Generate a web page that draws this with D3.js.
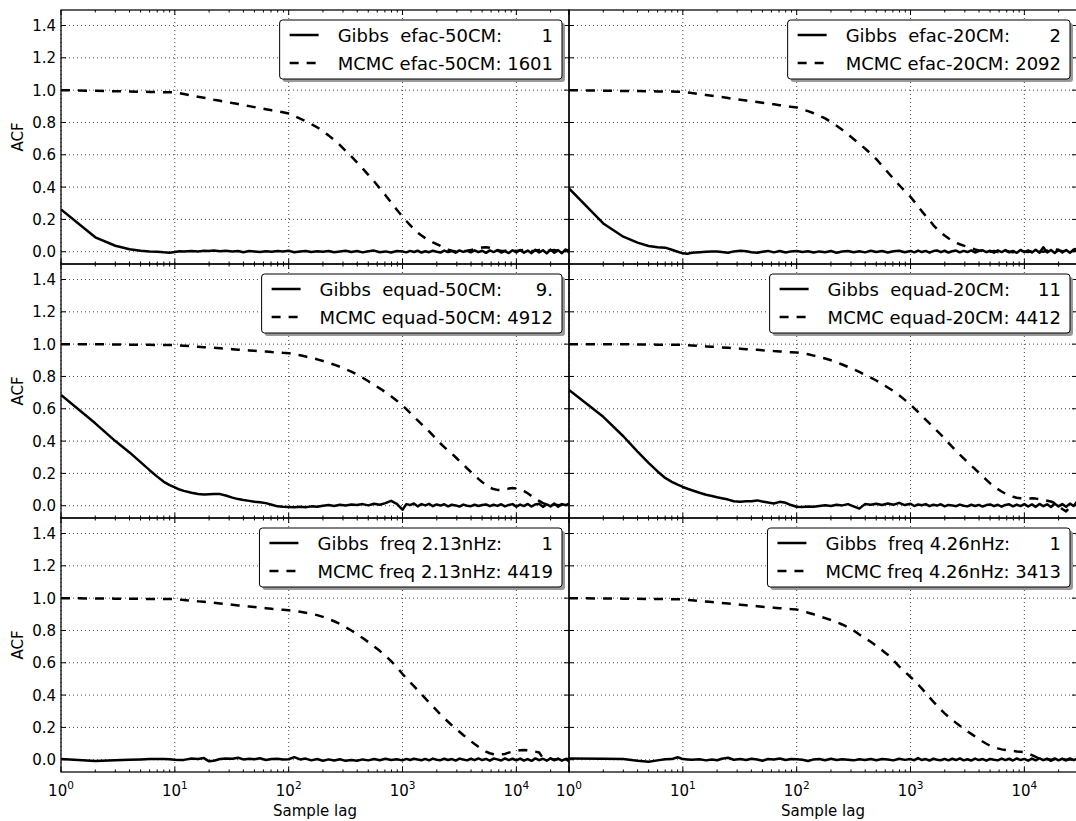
<!DOCTYPE html>
<html><head><meta charset="utf-8">
<script src="https://cdn.jsdelivr.net/npm/d3@7"></script>
<style>
body{margin:0;background:#fff}
svg{display:block}
text{font-family:"DejaVu Sans",sans-serif;fill:#000}
</style>
</head><body>
<svg id="c" width="1076" height="821"></svg>
<script>
// ---------- DATA ----------
const lags = [
1,2,3,4,5,6,7,8,9,10,
11,12,14,16,18,20,22,25,28,32,
36,40,45,50,56,63,71,80,89,100,
112,126,141,158,178,200,224,251,282,316,
355,398,447,501,562,631,708,794,891,1000,
1080,1166,1259,1359,1468,1585,1711,1848,1995,2154,
2326,2512,2712,2929,3162,3415,3687,3981,4299,4642,
5012,5412,5843,6310,6813,7356,7943,8577,9261,10000,
10798,11659,12589,13594,14678,15849,17113,18478,19953,21544,
23263,25119,27123,29000];

const parameterNames = ["efac-50CM","efac-20CM","equad-50CM","equad-20CM","freq 2.13nHz","freq 4.26nHz"];
const gibbsIACT = ["1","2","9.","11","1","1"];
const mcmcIACT = ["1601","2092","4912","4412","4419","3413"];

const gibbsEfac50 = [
0.262,0.089,0.037,0.015,0.006,0.002,0.000,-0.004,-0.006,-0.002,
0.003,0.001,0.004,0.002,0.006,0.004,0.007,0.003,0.006,0.002,
0.005,-0.003,0.004,0.001,-0.002,0.003,0.000,0.004,0.002,0.006,
-0.003,0.002,0.004,-0.002,0.003,0.000,0.005,-0.003,0.002,0.006,
-0.002,0.004,-0.004,0.003,0.007,-0.003,0.002,-0.005,0.004,0.001,
-0.004,0.005,-0.002,0.006,-0.005,0.003,-0.003,0.006,0.000,-0.005,
0.007,-0.002,0.004,-0.006,0.008,-0.001,0.005,-0.004,0.009,-0.003,
0.006,-0.007,0.008,-0.002,0.010,-0.005,0.004,-0.008,0.009,-0.004,
0.011,-0.006,0.007,-0.009,0.012,-0.004,0.009,-0.010,0.013,-0.006,
0.010,-0.009,0.014,-0.003];
const mcmcEfac50 = [
1.000,0.996,0.993,0.992,0.990,0.989,0.988,0.987,0.987,0.986,
0.981,0.976,0.967,0.959,0.953,0.947,0.941,0.934,0.928,0.920,
0.914,0.908,0.901,0.895,0.889,0.882,0.875,0.869,0.863,0.856,
0.840,0.824,0.807,0.790,0.770,0.745,0.720,0.692,0.660,0.625,
0.590,0.553,0.515,0.476,0.436,0.393,0.350,0.305,0.260,0.216,
0.190,0.165,0.140,0.118,0.100,0.084,0.070,0.058,0.047,0.036,
0.022,0.012,0.006,0.002,0.000,0.003,0.006,0.010,0.016,0.022,
0.026,0.027,0.025,0.018,0.010,0.004,0.006,0.010,0.008,0.004,
0.008,0.012,0.009,0.004,0.006,0.011,0.008,0.003,0.007,0.010,
0.006,0.002,0.008,0.010];

const gibbsEfac20 = [
0.392,0.175,0.093,0.056,0.035,0.027,0.025,0.012,0.000,-0.010,
-0.012,-0.006,-0.003,0.000,0.002,0.001,-0.002,-0.006,0.002,0.006,
0.003,-0.003,-0.006,0.000,0.005,-0.004,0.004,-0.005,0.002,0.004,
-0.002,0.003,-0.005,0.002,-0.003,0.004,-0.006,0.001,0.005,-0.003,
0.003,-0.004,0.006,-0.002,0.004,-0.005,0.003,0.006,-0.003,0.005,
-0.004,0.007,-0.002,0.005,-0.006,0.004,0.008,-0.003,0.006,-0.005,
0.003,0.007,-0.004,0.005,-0.002,0.008,-0.005,0.004,0.009,-0.003,
0.006,-0.006,0.008,-0.002,0.010,-0.004,0.005,-0.007,0.011,-0.003,
0.008,-0.005,0.012,-0.006,0.028,-0.004,0.010,-0.008,0.013,-0.005,
0.011,-0.007,0.014,0.018];
const mcmcEfac20 = [
1.000,0.997,0.995,0.994,0.993,0.992,0.991,0.991,0.990,0.990,
0.986,0.982,0.976,0.970,0.965,0.961,0.957,0.951,0.946,0.941,
0.936,0.931,0.926,0.922,0.917,0.912,0.907,0.902,0.897,0.893,
0.880,0.870,0.857,0.842,0.825,0.803,0.780,0.755,0.727,0.698,
0.668,0.639,0.607,0.573,0.533,0.492,0.452,0.413,0.375,0.340,
0.310,0.280,0.250,0.222,0.195,0.165,0.140,0.118,0.100,0.083,
0.068,0.055,0.046,0.038,0.030,0.022,0.014,0.008,0.004,0.002,
0.000,0.004,-0.002,0.003,0.006,0.001,-0.003,0.004,0.007,0.002,
-0.002,0.005,0.009,0.004,0.000,0.006,0.012,0.020,0.008,0.003,
0.007,0.010,0.004,0.008];

const gibbsEquad50 = [
0.686,0.510,0.400,0.330,0.270,0.220,0.180,0.148,0.128,0.114,
0.100,0.092,0.080,0.073,0.070,0.071,0.072,0.072,0.063,0.050,
0.041,0.035,0.030,0.025,0.021,0.016,0.006,-0.004,-0.007,-0.008,
-0.010,-0.006,-0.009,-0.004,-0.007,0.000,0.004,-0.002,0.006,0.002,
0.008,0.004,0.010,0.002,0.012,0.006,0.016,0.030,0.012,-0.025,
0.010,0.004,0.014,-0.004,0.010,0.002,0.012,-0.003,0.008,0.001,
0.009,-0.004,0.006,0.002,-0.005,0.007,0.000,-0.003,0.006,-0.002,
0.004,0.008,-0.003,0.006,-0.001,0.009,-0.004,0.005,0.010,-0.006,
0.007,-0.002,0.011,-0.005,0.008,0.012,-0.007,0.009,-0.004,0.013,
-0.006,0.010,0.004,0.012];
const mcmcEquad50 = [
1.000,0.999,0.998,0.997,0.996,0.996,0.995,0.995,0.994,0.994,
0.992,0.990,0.987,0.984,0.981,0.979,0.977,0.974,0.972,0.969,
0.966,0.964,0.961,0.959,0.956,0.954,0.951,0.949,0.946,0.944,
0.938,0.931,0.923,0.915,0.906,0.896,0.885,0.873,0.860,0.846,
0.830,0.812,0.792,0.770,0.748,0.726,0.703,0.678,0.650,0.620,
0.598,0.575,0.550,0.528,0.505,0.482,0.460,0.435,0.410,0.385,
0.363,0.342,0.323,0.300,0.277,0.255,0.232,0.210,0.188,0.166,
0.146,0.128,0.112,0.103,0.098,0.097,0.100,0.106,0.109,0.107,
0.100,0.090,0.077,0.060,0.045,0.030,0.016,0.008,0.004,0.008,
0.003,0.006,0.010,0.005];

const gibbsEquad20 = [
0.717,0.550,0.430,0.335,0.265,0.212,0.172,0.148,0.130,0.116,
0.105,0.096,0.080,0.068,0.060,0.052,0.046,0.038,0.028,0.025,
0.027,0.028,0.033,0.026,0.020,0.014,0.024,0.018,0.004,-0.006,
-0.008,-0.005,-0.007,-0.002,0.003,-0.002,0.006,0.002,0.010,-0.004,
-0.018,0.010,0.006,0.012,0.004,0.014,0.006,0.018,0.004,0.012,
-0.002,0.008,0.003,0.010,-0.003,0.006,0.001,0.009,-0.004,0.005,
0.002,-0.003,0.007,0.000,-0.004,0.006,-0.002,0.005,-0.005,0.004,
0.008,-0.003,0.006,-0.006,0.005,0.009,-0.004,0.007,-0.002,0.010,
-0.005,0.008,-0.007,0.011,-0.003,0.009,-0.008,0.012,-0.004,0.010,
-0.006,0.013,-0.002,0.025];
const mcmcEquad20 = [
1.000,0.999,0.999,0.998,0.998,0.997,0.997,0.997,0.996,0.996,
0.994,0.992,0.989,0.986,0.984,0.982,0.980,0.977,0.975,0.972,
0.969,0.967,0.965,0.962,0.960,0.957,0.955,0.952,0.950,0.948,
0.943,0.937,0.929,0.920,0.911,0.900,0.888,0.874,0.859,0.844,
0.828,0.810,0.793,0.775,0.754,0.732,0.710,0.684,0.655,0.625,
0.603,0.580,0.556,0.533,0.510,0.486,0.463,0.440,0.414,0.389,
0.364,0.340,0.316,0.293,0.270,0.248,0.227,0.205,0.182,0.160,
0.138,0.120,0.103,0.088,0.075,0.064,0.055,0.049,0.046,0.045,
0.045,0.046,0.044,0.040,0.035,0.031,0.026,0.016,0.000,-0.020,
-0.035,-0.010,0.004,0.010];

const gibbsFreq213 = [
0.004,-0.008,-0.004,0.000,0.002,0.004,0.005,0.005,0.003,0.000,
-0.002,-0.001,0.008,0.004,0.010,-0.010,-0.006,0.004,0.008,0.006,
0.012,0.002,0.006,0.003,0.009,-0.002,0.004,0.006,0.002,0.003,
0.016,0.002,0.007,-0.004,0.004,-0.006,0.002,-0.005,0.003,-0.007,
-0.002,-0.006,0.002,-0.004,0.004,-0.003,0.006,-0.002,0.003,-0.004,
0.005,-0.002,0.006,0.001,-0.003,0.005,-0.004,0.007,0.000,-0.003,
0.006,-0.002,0.004,-0.005,0.007,0.001,-0.004,0.006,-0.003,0.008,
-0.002,0.005,-0.006,0.007,0.002,-0.005,0.008,-0.003,0.006,-0.004,
0.007,-0.005,0.004,-0.007,0.008,-0.003,0.006,-0.006,0.009,-0.004,
0.007,-0.006,0.005,-0.010];
const mcmcFreq213 = [
1.000,0.998,0.997,0.996,0.996,0.995,0.995,0.994,0.994,0.994,
0.991,0.989,0.984,0.980,0.977,0.973,0.971,0.967,0.963,0.959,
0.955,0.952,0.948,0.945,0.941,0.938,0.934,0.931,0.928,0.925,
0.921,0.916,0.910,0.903,0.895,0.884,0.871,0.857,0.840,0.821,
0.800,0.777,0.753,0.728,0.702,0.674,0.643,0.610,0.574,0.530,
0.505,0.480,0.455,0.430,0.405,0.380,0.355,0.330,0.305,0.280,
0.257,0.235,0.213,0.193,0.173,0.153,0.134,0.115,0.097,0.080,
0.064,0.050,0.040,0.034,0.032,0.033,0.036,0.044,0.051,0.055,
0.058,0.060,0.058,0.054,0.050,0.045,0.010,0.004,0.006,0.002,
0.005,0.003,0.006,0.002];

const gibbsFreq426 = [
0.008,0.006,0.004,-0.006,-0.012,-0.004,0.003,0.004,0.015,0.004,
0.002,0.000,0.003,-0.004,0.002,-0.003,0.006,0.012,0.000,0.004,
-0.002,0.006,0.001,-0.006,0.004,0.002,0.008,-0.002,0.004,0.003,
0.000,-0.008,0.002,0.004,-0.003,0.006,-0.002,0.003,0.000,-0.004,
0.003,-0.002,0.005,-0.003,0.004,0.001,-0.004,0.006,-0.001,0.004,
-0.003,0.010,-0.002,0.004,-0.005,0.006,0.000,-0.003,0.005,-0.004,
0.006,-0.002,0.008,-0.004,0.003,-0.005,0.007,-0.002,0.004,-0.006,
0.005,0.000,-0.004,0.007,-0.003,0.006,-0.005,0.008,-0.002,0.005,
-0.006,0.007,-0.004,0.009,-0.003,0.006,-0.007,0.008,-0.004,0.007,
-0.005,0.008,-0.003,0.006];
const mcmcFreq426 = [
1.000,0.998,0.997,0.996,0.995,0.995,0.994,0.993,0.993,0.992,
0.989,0.987,0.983,0.979,0.976,0.973,0.970,0.967,0.963,0.959,
0.956,0.953,0.950,0.947,0.944,0.941,0.938,0.935,0.932,0.929,
0.920,0.910,0.900,0.888,0.876,0.865,0.852,0.837,0.820,0.800,
0.775,0.752,0.730,0.705,0.678,0.650,0.615,0.578,0.545,0.512,
0.490,0.465,0.440,0.413,0.385,0.360,0.335,0.310,0.287,0.266,
0.246,0.228,0.210,0.193,0.176,0.160,0.144,0.128,0.113,0.099,
0.086,0.077,0.070,0.064,0.060,0.057,0.054,0.051,0.049,0.046,
0.038,0.028,0.018,0.006,0.002,0.004,0.000,0.003,0.001,0.004,
0.000,0.003,0.001,0.002];

const gibbsSeries = [gibbsEfac50, gibbsEfac20, gibbsEquad50, gibbsEquad20, gibbsFreq213, gibbsFreq426];
const mcmcSeries = [mcmcEfac50, mcmcEfac20, mcmcEquad50, mcmcEquad20, mcmcFreq213, mcmcFreq426];
const yTickValues = [0.0,0.2,0.4,0.6,0.8,1.0,1.2,1.4];
const xMajorTicks = [1,10,100,1000,10000];

// ---------- LAYOUT ----------
const svg = d3.select('#c');
const PW = 508, PH = 254;
const lefts = [61, 569], tops = [10, 264, 518];
const xDomain = [1, 29000], yDomain = [-0.076, 1.496];
const defs = svg.append('defs');

parameterNames.forEach((name, i) => {
  const col = i % 2, row = Math.floor(i / 2);
  const L = lefts[col], T = tops[row];
  const x = d3.scaleLog().domain(xDomain).range([L, L + PW]);
  const y = d3.scaleLinear().domain(yDomain).range([T + PH, T]);
  const g = svg.append('g');

  defs.append('clipPath').attr('id', 'clip' + i)
    .append('rect').attr('x', L).attr('y', T).attr('width', PW).attr('height', PH);

  // grid
  const grid = g.append('g').attr('stroke', '#333').attr('stroke-width', 0.9)
    .attr('stroke-dasharray', '1,3');
  xMajorTicks.forEach(v => grid.append('line')
    .attr('x1', x(v)).attr('x2', x(v)).attr('y1', T).attr('y2', T + PH));
  yTickValues.forEach(v => grid.append('line')
    .attr('x1', L).attr('x2', L + PW).attr('y1', y(v)).attr('y2', y(v)));

  // lines
  const line = d3.line().defined(d => d[1] != null)
    .x(d => x(d[0])).y(d => y(d[1]));
  const gd = lags.map((l, k) => [l, gibbsSeries[i][k]]);
  const md = lags.map((l, k) => [l, mcmcSeries[i][k]]);
  const lg = g.append('g').attr('clip-path', 'url(#clip' + i + ')');
  lg.append('path').attr('d', line(md)).attr('fill', 'none').attr('stroke', '#000')
    .attr('stroke-width', 2.5).attr('stroke-dasharray', '9,8').attr('stroke-linejoin', 'round');
  lg.append('path').attr('d', line(gd)).attr('fill', 'none').attr('stroke', '#000')
    .attr('stroke-width', 2.5).attr('stroke-linejoin', 'round');

  // ticks (inward, all four sides)
  const tk = g.append('g').attr('stroke', '#000').attr('stroke-width', 1);
  const allX = x.ticks().filter(v => v >= 1 && v <= xDomain[1]);
  allX.forEach(v => {
    const major = xMajorTicks.includes(v);
    const len = major ? 5 : 2.5;
    const xx = x(v);
    tk.append('line').attr('x1', xx).attr('x2', xx).attr('y1', T + PH).attr('y2', T + PH - len);
    tk.append('line').attr('x1', xx).attr('x2', xx).attr('y1', T).attr('y2', T + len);
  });
  yTickValues.forEach(v => {
    const yy = y(v);
    tk.append('line').attr('x1', L).attr('x2', L + 5).attr('y1', yy).attr('y2', yy);
    tk.append('line').attr('x1', L + PW).attr('x2', L + PW - 5).attr('y1', yy).attr('y2', yy);
  });

  // frame
  g.append('rect').attr('x', L).attr('y', T).attr('width', PW).attr('height', PH)
    .attr('fill', 'none').attr('stroke', '#000').attr('stroke-width', 1.25);

  // y tick labels + label (left column)
  if (col === 0) {
    yTickValues.forEach(v => g.append('text').attr('x', L - 5).attr('y', y(v) + 5.5)
      .attr('text-anchor', 'end').attr('font-size', 15).text(d3.format('.1f')(v)));
    g.append('text').attr('transform', `translate(23,${T + PH / 2}) rotate(-90)`)
      .attr('text-anchor', 'middle').attr('font-size', 15).text('ACF');
  }
  // x tick labels + label (bottom row)
  if (row === 2) {
    xMajorTicks.forEach(v => {
      const t = g.append('text').attr('x', x(v)).attr('y', T + PH + 24)
        .attr('text-anchor', 'middle').attr('font-size', 15);
      t.append('tspan').text('10');
      t.append('tspan').attr('dy', -7).attr('font-size', 10.5).text(String(Math.round(Math.log10(v))));
    });
    g.append('text').attr('x', L + PW / 2).attr('y', T + PH + 44)
      .attr('text-anchor', 'middle').attr('font-size', 15).text('Sample lag');
  }

  // legend
  const leg = g.append('g');
  const R = L + PW - 7, top = T + 10, h = 59;
  const shadow = leg.append('rect');
  const box = leg.append('rect');
  const rows = [
    {name: 'Gibbs  ' + name + ':', num: gibbsIACT[i], dash: null},
    {name: 'MCMC ' + name + ':', num: mcmcIACT[i], dash: '9,8'}
  ];
  // measure
  const meas = leg.append('text').attr('font-size', 18).style('white-space', 'pre')
    .text(rows[1].name + ' ' + rows[1].num);
  let w = meas.node().getComputedTextLength();
  const meas2 = leg.append('text').attr('font-size', 18).style('white-space', 'pre')
    .text(rows[0].name + ' ' + rows[0].num);
  w = Math.max(w, meas2.node().getComputedTextLength());
  meas.remove(); meas2.remove();
  const Lb = R - 9 - w - 58;
  shadow.attr('x', Lb + 3).attr('y', top + 3).attr('width', R - Lb).attr('height', h)
    .attr('rx', 3).attr('fill', '#999');
  box.attr('x', Lb).attr('y', top).attr('width', R - Lb).attr('height', h)
    .attr('rx', 3).attr('fill', '#fff').attr('stroke', '#000').attr('stroke-width', 1);
  rows.forEach((r, k) => {
    const cy = top + 15 + k * 28;
    const ln = leg.append('line').attr('x1', Lb + 10).attr('x2', Lb + 39)
      .attr('y1', cy).attr('y2', cy).attr('stroke', '#000').attr('stroke-width', 2.5);
    if (r.dash) ln.attr('stroke-dasharray', r.dash);
    leg.append('text').attr('x', Lb + 58).attr('y', cy + 6.5).attr('font-size', 18)
      .style('white-space', 'pre').text(r.name);
    leg.append('text').attr('x', R - 9).attr('y', cy + 6.5).attr('font-size', 18)
      .attr('text-anchor', 'end').text(r.num);
  });
});
</script>
</body></html>
